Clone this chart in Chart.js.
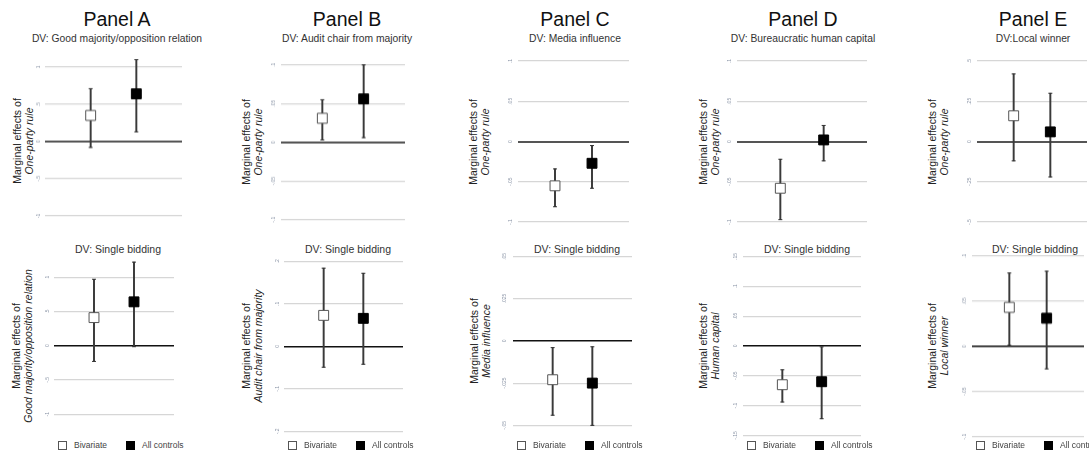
<!DOCTYPE html>
<html>
<head>
<meta charset="utf-8">
<script src="https://cdn.jsdelivr.net/npm/chart.js@4/dist/chart.umd.min.js"></script>
<style>
  html, body { margin: 0; padding: 0; background: #fff; }
  body { width: 1089px; height: 454px; overflow: hidden; position: relative;
         font-family: "Liberation Sans", Arial, Helvetica, sans-serif; color: #222; }
  .abs { position: absolute; white-space: nowrap; }
  .panel-title { font-size: 19.5px; color: #111; transform: translate(-50%, -50%); }
  .sub-title { font-size: 10.3px; color: #333; transform: translate(-50%, -50%); }
  .bid-title { font-size: 10.5px; color: #333; transform: translate(-50%, -50%); }
  .ytitle { font-size: 10.5px; line-height: 11.5px; text-align: center; color: #222;
            transform: translate(-50%, -50%) rotate(-90deg); }
  .legend { font-size: 8.5px; color: #444; display: flex; align-items: center; transform: translateY(-50%); }
  .legend .box { width: 7px; height: 7px; border: 1px solid #555; margin-right: 7px; }
  .legend .box.fill { background: #000; border-color: #000; }
  .legend .item { display: flex; align-items: center; width: 68px; }
  .plot { position: absolute; }
</style>
</head>
<body>
<script>
// Panel headers and axis wording
const panelNames = ["Panel A", "Panel B", "Panel C", "Panel D", "Panel E"];
const topSubtitles = [
    "DV: Good majority/opposition relation",
    "DV: Audit chair from majority",
    "DV: Media influence",
    "DV: Bureaucratic human capital",
    "DV:Local winner"
];
const bottomSubtitle = "DV: Single bidding";
const topTerms = ["One-party rule", "One-party rule", "One-party rule", "One-party rule", "One-party rule"];
const bottomTerms = [
    "Good majority/opposition relation",
    "Audit chair from majority",
    "Media influence",
    "Human capital",
    "Local winner"
];
const seriesNames = ["Bivariate", "All controls"];
const categories = ["", "Bivariate", "All controls", " "];

// Top row: estimates and 95% bounds, [Bivariate, All controls]
const topEst  = [[0.35, 0.64], [0.031, 0.056], [-0.055, -0.027], [-0.058, 0.002], [0.16, 0.06]];
const topLow  = [[-0.08, 0.13], [0.003, 0.006], [-0.081, -0.058], [-0.097, -0.024], [-0.12, -0.22]];
const topHigh = [[0.71, 1.10], [0.055, 0.100], [-0.034, -0.005], [-0.022, 0.020], [0.42, 0.30]];
const topTicks = [
    [-1, -0.5, 0, 0.5, 1],
    [-0.1, -0.05, 0, 0.05, 0.1],
    [-0.1, -0.05, 0, 0.05, 0.1],
    [-0.1, -0.05, 0, 0.05, 0.1],
    [-0.5, -0.25, 0, 0.25, 0.5]
];

// Bottom row (single bidding)
const botEst  = [[0.41, 0.64], [0.073, 0.066], [-0.023, -0.025], [-0.065, -0.060], [0.043, 0.031]];
const botLow  = [[-0.23, -0.015], [-0.049, -0.042], [-0.044, -0.050], [-0.094, -0.122], [0.001, -0.025]];
const botHigh = [[0.97, 1.22], [0.184, 0.172], [-0.004, -0.0035], [-0.040, -0.0015], [0.081, 0.083]];
const botTicks = [
    [-1, -0.5, 0, 0.5, 1],
    [-0.2, -0.1, 0, 0.1, 0.2],
    [-0.05, -0.025, 0, 0.025, 0.05],
    [-0.15, -0.1, -0.05, 0, 0.05, 0.1, 0.15],
    [-0.1, -0.05, 0, 0.05, 0.1]
];

// Page layout: plot boxes [gridLeft, gridRight, topTickY, bottomTickY]
const topBoxes = [[45, 190, 67, 215], [281, 413, 65, 219], [518, 637, 61, 222], [737, 875, 61, 222], [977, 1095, 61, 222]];
const botBoxes = [[54, 182, 277, 414], [284, 411, 261, 431], [513, 640, 256, 425], [743, 869, 256, 435], [972, 1092, 256, 436]];
const titleX = [117, 347, 575, 803, 1033];
const bidTitleX = [118, 348, 577, 807, 1035];
const topYTitleX = [23, 252, 479, 709, 938];
const botYTitleX = [22, 252, 480, 709, 938];

const AXIS_W = 12;
const PAD = 8;

function addText(cls, html, x, y) {
    let d = document.createElement("div");
    d.className = "abs " + cls;
    d.style.left = x + "px";
    d.style.top = y + "px";
    d.innerHTML = html;
    document.body.appendChild(d);
    return d;
}

// Stata-style tick text: ".5", "-.05", "0"
function fmt(v) {
    if (v === 0) return "0";
    return String(+v.toFixed(4)).replace(/^(-?)0\./, "$1.");
}

function buildPlot(box, ticks, est, lo, hi, zeroColor, zeroWidth) {
    const [x0, x1, yTop, yBot] = box;
    const tTop = Math.max(...ticks), tBot = Math.min(...ticks);
    const step = (tTop - tBot) / (ticks.length - 1);
    const max = Math.max(tTop, ...hi) + 0.15 * step;
    const min = Math.min(tBot, ...lo) - 0.15 * step;
    const ppu = (yBot - yTop) / (tTop - tBot);
    const areaTop = yTop - (max - tTop) * ppu;
    const areaBot = yBot + (tBot - min) * ppu;

    let wrap = document.createElement("div");
    wrap.className = "plot";
    wrap.style.left = (x0 - AXIS_W) + "px";
    wrap.style.top = (areaTop - PAD) + "px";
    wrap.style.width = (x1 - x0 + AXIS_W) + "px";
    wrap.style.height = (areaBot - areaTop + 2 * PAD) + "px";
    let canvas = document.createElement("canvas");
    wrap.appendChild(canvas);
    document.body.appendChild(wrap);

    new Chart(canvas.getContext("2d"), {
        type: "bar",
        data: {
            labels: categories,
            datasets: [
                {
                    type: "line",
                    label: seriesNames[0],
                    data: [null, est[0], null, null],
                    showLine: false,
                    pointStyle: "rect",
                    pointRadius: 7,
                    pointBackgroundColor: "#fff",
                    pointBorderColor: "#555",
                    pointBorderWidth: 1,
                    clip: false,
                    order: 0
                },
                {
                    type: "line",
                    label: seriesNames[1],
                    data: [null, null, est[1], null],
                    showLine: false,
                    pointStyle: "rect",
                    pointRadius: 7,
                    pointBackgroundColor: "#000",
                    pointBorderColor: "#000",
                    pointBorderWidth: 1,
                    clip: false,
                    order: 0
                },
                {
                    type: "line",
                    label: "low",
                    data: [null, lo[0], lo[1], null],
                    showLine: false,
                    pointStyle: "line",
                    pointRadius: 2,
                    pointBorderColor: "#333",
                    pointBorderWidth: 1,
                    clip: false,
                    order: 1
                },
                {
                    type: "line",
                    label: "high",
                    data: [null, hi[0], hi[1], null],
                    showLine: false,
                    pointStyle: "line",
                    pointRadius: 2,
                    pointBorderColor: "#333",
                    pointBorderWidth: 1,
                    clip: false,
                    order: 1
                },
                {
                    label: "ci",
                    data: [null, [lo[0], hi[0]], [lo[1], hi[1]], null],
                    backgroundColor: "#3a3a3a",
                    borderWidth: 0,
                    barThickness: 1.3,
                    clip: false,
                    order: 2
                }
            ]
        },
        options: {
            responsive: true,
            maintainAspectRatio: false,
            animation: false,
            events: [],
            layout: { padding: { top: PAD, bottom: PAD, left: 0, right: 0 } },
            plugins: {
                legend: { display: false },
                tooltip: { enabled: false }
            },
            scales: {
                x: {
                    display: false,
                    offset: false
                },
                y: {
                    min: min,
                    max: max,
                    border: { display: false },
                    grid: {
                        drawTicks: false,
                        color: (c) => c.tick && c.tick.value === 0 ? zeroColor : "#d6d6d6",
                        lineWidth: (c) => c.tick && c.tick.value === 0 ? zeroWidth : 1.2
                    },
                    afterBuildTicks: (scale) => {
                        scale.ticks = ticks.map(v => ({ value: v }));
                    },
                    afterFit: (scale) => {
                        scale.width = AXIS_W;
                    },
                    ticks: {
                        callback: (v) => fmt(v),
                        minRotation: 90,
                        maxRotation: 90,
                        crossAlign: "center",
                        padding: 3,
                        color: "#8a94a6",
                        font: { size: 5, family: "Liberation Sans, Arial, sans-serif" }
                    }
                }
            }
        }
    });
}

// Build all ten plots with their headings
panelNames.forEach((name, i) => {
    addText("panel-title", name, titleX[i], 19);
    addText("sub-title", topSubtitles[i], titleX[i], 38);
    addText("bid-title", bottomSubtitle, bidTitleX[i], 249);

    const tb = topBoxes[i], bb = botBoxes[i];
    addText("ytitle", "Marginal effects of<br><i>" + topTerms[i] + "</i>", topYTitleX[i], (tb[2] + tb[3]) / 2);
    addText("ytitle", "Marginal effects of<br><i>" + bottomTerms[i] + "</i>", botYTitleX[i], (bb[2] + bb[3]) / 2);

    buildPlot(tb, topTicks[i], topEst[i], topLow[i], topHigh[i], "#555", 2);
    buildPlot(bb, botTicks[i], botEst[i], botLow[i], botHigh[i], "#111", 1.5);

    addText("legend",
        '<span class="item"><span class="box"></span>' + seriesNames[0] + '</span>' +
        '<span class="item"><span class="box fill"></span>' + seriesNames[1] + '</span>',
        bb[0] + 4, 445);
});
</script>
</body>
</html>
